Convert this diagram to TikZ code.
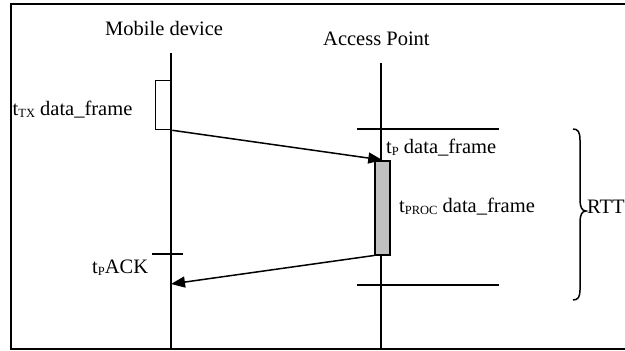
\documentclass[tikz,border=0pt]{standalone}
\usepackage{fontspec}
\setmainfont{Liberation Serif}
\usetikzlibrary{arrows.meta}
\newcommand{\lowsub}[1]{\raisebox{-2.2pt}{\fontsize{12.5}{13}\selectfont #1}}
\tikzset{
  lbl/.style={inner sep=0pt, anchor=base west, font=\fontsize{20.5}{24}\selectfont},
  life/.style={line width=1.5pt},
  msg/.style={line width=1.5pt, -{Triangle[length=14pt,width=11pt]}},
  tick/.style={line width=1.3pt},
  frame/.style={line width=2pt},
}
\begin{document}
\begin{tikzpicture}[x=1pt,y=-1pt]
\useasboundingbox (0,0) rectangle (625,351);
\clip (0,0) rectangle (625,351);
\fill[white] (0,0) rectangle (625,351);
\draw[frame] (11,4) rectangle (640,349);
% titles
\node[lbl] (mtitle) at (105,35) {Mobile device};
\node[lbl] (atitle) at (323,45) {Access Point};
% lifelines
\coordinate (mtop) at (171,53);
\coordinate (mbot) at (171,349);
\coordinate (atop) at (381,63);
\coordinate (abot) at (381,349);
\draw[life] (mtop) -- (mbot);
\draw[life] (atop) -- (abot);
% TX box
\node[draw, line width=1.3pt, minimum width=16pt, minimum height=49pt, inner sep=0pt, anchor=north west] (tx) at (155,80) {};
\node[lbl] (txl) at (12.5,115.5) {t\lowsub{TX} data\_frame};
% processing box
\node[draw, line width=1.5pt, fill={rgb,255:red,192;green,192;blue,192}, minimum width=15pt, minimum height=94pt, inner sep=0pt, anchor=north west] (proc) at (374,160) {};
% horizontal markers at AP
\coordinate (h1a) at (357,129);
\coordinate (h1b) at (499,129);
\coordinate (h2a) at (357,285);
\coordinate (h2b) at (499,285);
\draw[tick] (h1a) -- (h1b);
\draw[tick] (h2a) -- (h2b);
% ACK tick
\coordinate (k1) at (152,254);
\coordinate (k2) at (183,254);
\draw[tick] (k1) -- (k2);
% messages
\coordinate (ackend) at (171,284);
\draw[msg] (tx.south east) -- (proc.north);
\draw[msg] (proc.south west) -- (ackend);
% labels
\node[lbl] (tpl) at (386,153) {t\lowsub{P} data\_frame};
\node[lbl] (procl) at (399,212.5) {t\lowsub{PROC} data\_frame};
\node[lbl] (ackl) at (92,273) {t\lowsub{P}ACK};
% brace
\draw[line width=1.5pt] (573,129) .. controls (578,129) and (580,132) .. (580,140) -- (580,200) .. controls (580,207) and (582,211) .. (586,211) .. controls (582,211) and (580,215) .. (580,222) -- (580,290) .. controls (580,297) and (578,300) .. (573,300);
\node[lbl] (rtt) at (587,213) {RTT};
\end{tikzpicture}
\end{document}
